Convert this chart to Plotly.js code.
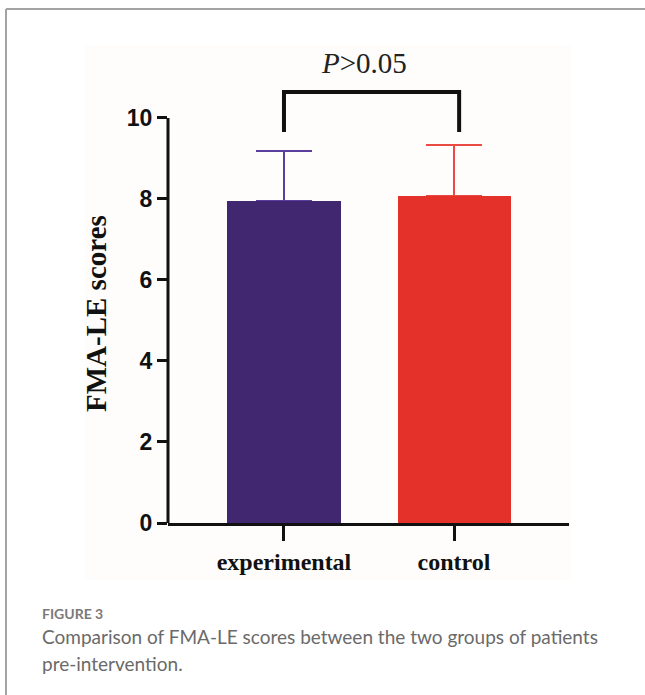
<!DOCTYPE html>
<html>
<head>
<meta charset="utf-8">
<script src="https://cdn.plot.ly/plotly-3.0.1.min.js"></script>
<style>
  html, body { margin: 0; padding: 0; background: #ffffff; }
  #chart { width: 645px; height: 695px; }
</style>
</head>
<body>
<div id="chart"></div>
<script>
// ---- data ----
const groups = ["experimental", "control"];
const meanScores = [7.95, 8.07];
const sdScores = [1.24, 1.26];
const barColors = ["#41276f", "#e4322b"];
const errColors = ["#5b3f9e", "#ea4a42"];
const yTickVals = [0, 2, 4, 6, 8, 10];
const pLabel = "<i>P</i>>0.05";
const yTitle = "FMA-LE scores";
const figLabel = "FIGURE 3";
const captionLines = [
  "Comparison of FMA-LE scores between the two groups of patients",
  "pre-intervention."
];

// ---- traces ----
// error bars first (transparent bars), real bars drawn on top so the lower cap is hidden
const errTraces = groups.map((g, i) => ({
  type: "bar",
  x: [g],
  y: [meanScores[i]],
  width: 0.665,
  marker: { color: "rgba(0,0,0,0)", line: { width: 0 } },
  error_y: {
    type: "data",
    symmetric: false,
    array: [sdScores[i]],
    arrayminus: [0],
    color: errColors[i],
    thickness: 2,
    width: 28
  },
  showlegend: false,
  hoverinfo: "skip"
}));
const barTraces = groups.map((g, i) => ({
  type: "bar",
  x: [g],
  y: [meanScores[i]],
  width: 0.665,
  marker: { color: barColors[i], line: { width: 0 } },
  showlegend: false,
  hoverinfo: "skip"
}));

const plotL = 168, plotR = 569, plotT = 45, plotB = 523;
const pw = plotR - plotL, ph = plotB - plotT;
const px = v => (v - plotL) / pw;   // pixel -> paper x
const py = v => (plotB - v) / ph;   // pixel -> paper y

const layout = {
  width: 645,
  height: 695,
  margin: { l: plotL, r: 645 - plotR, t: plotT, b: 695 - plotB, pad: 0 },
  paper_bgcolor: "#ffffff",
  plot_bgcolor: "rgba(0,0,0,0)",
  barmode: "overlay",
  bargap: 0,
  xaxis: {
    type: "category",
    range: [-0.682, 1.676],
    showline: true,
    linecolor: "#111111",
    linewidth: 3,
    ticks: "outside",
    ticklen: 15,
    tickwidth: 3,
    tickcolor: "#111111",
    showgrid: false,
    zeroline: false,
    tickfont: { family: "Liberation Serif", size: 24, color: "#111111", weight: "bold" }
  },
  yaxis: {
    range: [0, 11.8],
    tickvals: yTickVals,
    ticktext: yTickVals.map(String),
    showline: false,
    ticks: "outside",
    ticklen: 10,
    tickwidth: 3,
    tickcolor: "#111111",
    showgrid: false,
    zeroline: false,
    tickfont: { family: "Liberation Sans", size: 23, color: "#111111", weight: "bold" }
  },
  shapes: [
    // subtle figure background
    { type: "rect", xref: "paper", yref: "paper", x0: px(85), x1: px(571), y0: py(580), y1: py(45),
      fillcolor: "#fefdfb", line: { width: 0 }, layer: "below" },
    // outer frame (top + left)
    { type: "line", xref: "paper", yref: "paper", x0: px(6), x1: px(645), y0: py(9), y1: py(9),
      line: { color: "#a3a3a3", width: 2 } },
    { type: "line", xref: "paper", yref: "paper", x0: px(6), x1: px(6), y0: py(9), y1: py(695),
      line: { color: "#a3a3a3", width: 2 } },
    // y axis line from 0 to 10
    { type: "line", xref: "x domain", yref: "y", x0: 0, x1: 0, y0: 0, y1: 10,
      line: { color: "#111111", width: 3 } },
    // significance bracket
    { type: "path", xref: "x", yref: "y",
      path: "M 0,9.65 L 0,10.64 L 1.03,10.64 L 1.03,9.65",
      line: { color: "#111111", width: 4 } }
  ],
  annotations: [
    { text: pLabel, xref: "x", yref: "y", x: 0.47, y: 11.36, showarrow: false,
      xanchor: "center", yanchor: "middle",
      font: { family: "Liberation Serif", size: 29, color: "#222222" } },
    { text: yTitle, xref: "paper", yref: "paper", x: px(96), y: py(314), textangle: -90,
      showarrow: false, xanchor: "center", yanchor: "middle",
      font: { family: "Liberation Serif", size: 29, color: "#111111", weight: "bold" } },
    { text: figLabel, xref: "paper", yref: "paper", x: px(40), y: py(613), showarrow: false,
      xanchor: "left", yanchor: "middle",
      font: { family: "Lato", size: 14, color: "#7a7a7a", weight: "bold" } },
    { text: captionLines[0], xref: "paper", yref: "paper", x: px(40), y: py(636), showarrow: false,
      xanchor: "left", yanchor: "middle",
      font: { family: "Lato", size: 19, color: "#6a6a6a" } },
    { text: captionLines[1], xref: "paper", yref: "paper", x: px(40), y: py(663), showarrow: false,
      xanchor: "left", yanchor: "middle",
      font: { family: "Lato", size: 19, color: "#6a6a6a" } }
  ]
};

Plotly.newPlot("chart", errTraces.concat(barTraces), layout, { staticPlot: true, displayModeBar: false });
</script>
</body>
</html>
